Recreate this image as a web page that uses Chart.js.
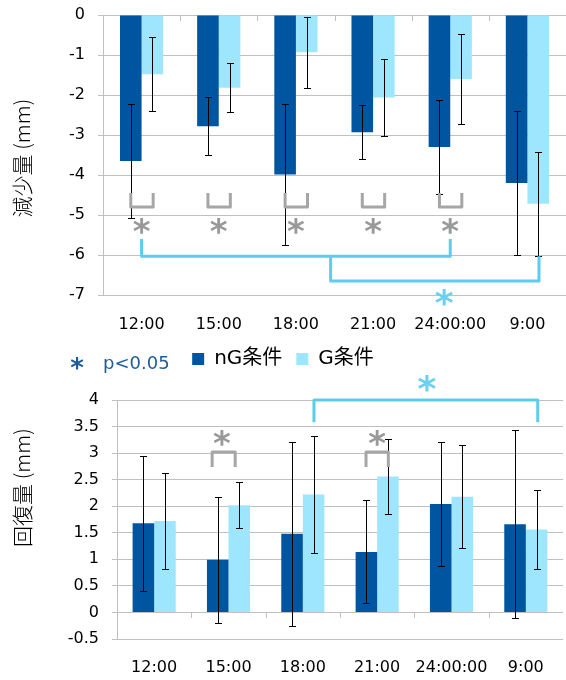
<!DOCTYPE html>
<html>
<head>
<meta charset="utf-8">
<script src="https://cdn.jsdelivr.net/npm/chart.js@4/dist/chart.umd.min.js"></script>
<style>
  body { margin: 0; background: #fff; width: 566px; height: 680px; position: relative; overflow: hidden; }
  #lossChart { position: absolute; left: 0; top: 0; }
  #recoveryChart { position: absolute; left: 0; top: 345px; }
</style>
</head>
<body>
<canvas id="lossChart" width="566" height="379"></canvas>
<canvas id="recoveryChart" width="566" height="335"></canvas>
<script>
// categories and series
const categories = ['12:00', '15:00', '18:00', '21:00', '24:00:00', '9:00'];
const seriesNames = ['nG条件', 'G条件'];

// 減少量 (mm)
const lossNG = [-3.65, -2.78, -3.99, -2.93, -3.30, -4.20];
const lossNGErr = [1.43, 0.73, 1.77, 0.67, 1.18, 1.80];
const lossG = [-1.48, -1.82, -0.93, -2.06, -1.60, -4.72];
const lossGErr = [0.92, 0.61, 0.89, 0.97, 1.13, 1.30];
const lossTicks = [0, -1, -2, -3, -4, -5, -6, -7];

// 回復量 (mm)
const recNG = [1.68, 0.99, 1.48, 1.14, 2.04, 1.66];
const recNGErr = [1.27, 1.19, 1.73, 0.97, 1.16, 1.77];
const recG = [1.72, 2.02, 2.22, 2.56, 2.18, 1.56];
const recGErr = [0.90, 0.43, 1.10, 0.71, 0.97, 0.75];
const recTicks = [4, 3.5, 3, 2.5, 2, 1.5, 1, 0.5, 0, -0.5];

const FONT = '"DejaVu Sans", "Noto Sans CJK JP", sans-serif';
const NG_COLOR = '#0055a0';
const G_COLOR = '#9ee6fe';
const GRID = '#c0c0c0';
const GRAY_MARK = '#a6a6a6';
const CYAN_MARK = '#5ccdef';

// x pixel for a (possibly fractional) category position
function catX(chart, pos) {
    const x = chart.scales.x;
    const p0 = x.getPixelForValue(0), p1 = x.getPixelForValue(1);
    return p0 + pos * (p1 - p0);
}

function drawStar(ctx, x, y, color, size) {
    ctx.font = 'bold ' + size + 'px ' + FONT;
    ctx.fillStyle = color;
    ctx.textAlign = 'center';
    ctx.textBaseline = 'alphabetic';
    const m = ctx.measureText('*');
    ctx.fillText('*', x, y + (m.actualBoundingBoxAscent - m.actualBoundingBoxDescent) / 2);
}

function drawBracket(ctx, chart, b) {
    const y = chart.scales.y;
    const x1 = catX(chart, b.from), x2 = catX(chart, b.to);
    const yLeg = y.getPixelForValue(b.leg), yBar = y.getPixelForValue(b.bar);
    ctx.beginPath();
    ctx.moveTo(x1, yLeg);
    ctx.lineTo(x1, yBar);
    ctx.lineTo(x2, yBar);
    ctx.lineTo(x2, yLeg);
    ctx.stroke();
}

// error bars from dataset.errors
const errorBars = {
    id: 'errorBars',
    afterDatasetsDraw(chart) {
        const ctx = chart.ctx, y = chart.scales.y;
        ctx.save();
        ctx.strokeStyle = '#000';
        ctx.lineWidth = 1;
        chart.data.datasets.forEach((ds, di) => {
            chart.getDatasetMeta(di).data.forEach((bar, i) => {
                const hi = Math.round(y.getPixelForValue(ds.data[i] + ds.errors[i])) + 0.5;
                const lo = Math.round(y.getPixelForValue(ds.data[i] - ds.errors[i])) + 0.5;
                const x = Math.round(bar.x) + 0.5;
                ctx.beginPath();
                ctx.moveTo(x, hi); ctx.lineTo(x, lo);
                ctx.moveTo(x - 3.5, hi); ctx.lineTo(x + 3.5, hi);
                ctx.moveTo(x - 3.5, lo); ctx.lineTo(x + 3.5, lo);
                ctx.stroke();
            });
        });
        ctx.restore();
    }
};

// little category ticks on the zero line, rotated axis title, significance marks
function panelPlugin(title, titleShift, sig) {
    return {
        id: 'panel',
        beforeDatasetsDraw(chart) {
            const ctx = chart.ctx, y0 = Math.round(chart.scales.y.getPixelForValue(0));
            ctx.save();
            ctx.strokeStyle = GRID;
            ctx.lineWidth = 1;
            for (let i = 1; i < categories.length; i++) {
                const x = Math.round(catX(chart, i - 0.5)) + 0.5;
                ctx.beginPath();
                ctx.moveTo(x, y0);
                ctx.lineTo(x, y0 + 6);
                ctx.stroke();
            }
            ctx.restore();
        },
        afterDraw(chart) {
            const ctx = chart.ctx, a = chart.chartArea, y = chart.scales.y;
            ctx.save();
            ctx.translate(22, (a.top + a.bottom) / 2 + titleShift);
            ctx.rotate(-Math.PI / 2);
            ctx.font = '300 21px "Noto Sans CJK JP", ' + FONT;
            ctx.fillStyle = '#000';
            ctx.textAlign = 'center';
            ctx.textBaseline = 'middle';
            ctx.fillText(title, 0, 0);
            ctx.restore();

            ctx.save();
            ctx.lineWidth = 3;
            ctx.lineJoin = 'round';
            ctx.strokeStyle = GRAY_MARK;
            sig.pairs.forEach(p => {
                drawBracket(ctx, chart, { from: p.at + p.from, to: p.at + p.to, leg: p.leg, bar: p.bar });
                drawStar(ctx, catX(chart, p.at + p.star), y.getPixelForValue(p.starY), '#999999', 34);
            });
            ctx.strokeStyle = CYAN_MARK;
            sig.spans.forEach(b => drawBracket(ctx, chart, b));
            sig.stars.forEach(s => drawStar(ctx, catX(chart, s.at), y.getPixelForValue(s.y), '#6dd0f1', 36));
            ctx.restore();
        }
    };
}

const pValueNote = {
    id: 'pValueNote',
    afterDraw(chart) {
        const ctx = chart.ctx;
        ctx.save();
        drawStar(ctx, 77, 363, '#1f5b9b', 26);
        ctx.font = '18px ' + FONT;
        ctx.fillStyle = '#1f5b9b';
        ctx.textAlign = 'left';
        ctx.textBaseline = 'middle';
        ctx.fillText('p<0.05', 103, 364);
        ctx.restore();
    }
};

function makeOptions(ticks, catPct, yWidth, padding, xPad, legend) {
    return {
        responsive: false,
        animation: false,
        layout: { padding: padding },
        datasets: { bar: { barPercentage: 1, categoryPercentage: catPct } },
        plugins: {
            legend: legend ? {
                position: 'bottom',
                labels: { boxWidth: 12, boxHeight: 12, padding: 14, color: '#000', font: { family: FONT, size: 20 } }
            } : { display: false },
            tooltip: { enabled: false }
        },
        scales: {
            x: {
                grid: { display: false, drawTicks: false },
                border: { display: false },
                ticks: { padding: xPad, color: '#000', maxRotation: 0, minRotation: 0, autoSkip: false,
                         font: { family: FONT, size: 16 } },
                // Chart.js counts the tick padding twice here; keep one
                afterFit(scale) { scale.height = xPad + 20; }
            },
            y: {
                min: Math.min(...ticks),
                max: Math.max(...ticks),
                ticks: { stepSize: Math.abs(ticks[0] - ticks[1]), autoSkip: false,
                         callback: v => +v.toFixed(2),
                         padding: 13, color: '#000', font: { family: FONT, size: 16 } },
                grid: { color: GRID, tickLength: 5 },
                border: { color: GRID },
                afterFit(scale) {
                    scale.width = yWidth;
                    scale.paddingTop = 0;
                    scale.paddingBottom = 0;
                }
            }
        }
    };
}

new Chart(document.getElementById('lossChart').getContext('2d'), {
    type: 'bar',
    data: {
        labels: categories,
        datasets: [
            { label: seriesNames[0], data: lossNG, errors: lossNGErr, backgroundColor: NG_COLOR },
            { label: seriesNames[1], data: lossG, errors: lossGErr, backgroundColor: G_COLOR }
        ]
    },
    options: makeOptions(lossTicks, 0.56, 103, { top: 15, right: 0, bottom: 0, left: 0 }, 20, true),
    plugins: [errorBars, pValueNote, panelPlugin('減少量 (mm)', 3, {
        pairs: [0, 1, 2, 3, 4].map(i => ({ at: i, from: -0.14, to: 0.15, leg: -4.45, bar: -4.8, star: 0, starY: -5.28 })),
        spans: [
            { from: 0, to: 4, leg: -5.6, bar: -6.03 },
            { from: 2.45, to: 5.15, leg: -6.03, bar: -6.65 }
        ],
        stars: [{ at: 3.92, y: -7.05 }]
    })]
});

new Chart(document.getElementById('recoveryChart').getContext('2d'), {
    type: 'bar',
    data: {
        labels: categories,
        datasets: [
            { label: seriesNames[0], data: recNG, errors: recNGErr, backgroundColor: NG_COLOR },
            { label: seriesNames[1], data: recG, errors: recGErr, backgroundColor: G_COLOR }
        ]
    },
    options: makeOptions(recTicks, 0.58, 117, { top: 55, right: 3, bottom: 2, left: 0 }, 19, false),
    plugins: [errorBars, panelPlugin('回復量 (mm)', -32, {
        pairs: [
            { at: 1, from: -0.22, to: 0.09, leg: 2.74, bar: 3.02, star: -0.09, starY: 3.29 },
            { at: 3, from: -0.15, to: 0.15, leg: 2.74, bar: 3.02, star: 0, starY: 3.29 }
        ],
        spans: [{ from: 2.15, to: 5.16, leg: 3.58, bar: 4.0 }],
        stars: [{ at: 3.67, y: 4.31 }]
    })]
});
</script>
</body>
</html>
